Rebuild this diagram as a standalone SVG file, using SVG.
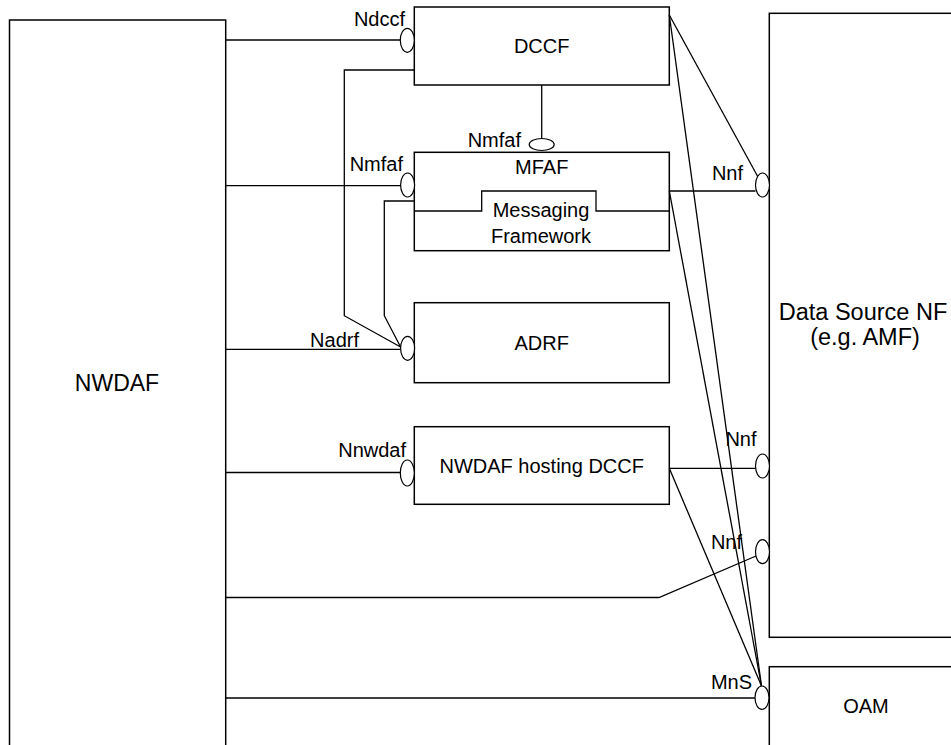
<svg xmlns="http://www.w3.org/2000/svg" width="951" height="745" viewBox="0 0 951 745">
<style>
.box{fill:#fff;stroke:#000;stroke-width:1.5}
.ln{fill:none;stroke:#000;stroke-width:1.3}
.if{fill:#fff;stroke:#000;stroke-width:1.2}
text{font-family:"Liberation Sans",Arial,sans-serif;fill:#000}
.t{font-size:20px;text-anchor:middle}
.big{font-size:23px;text-anchor:middle}
.ds{font-size:23.5px;text-anchor:middle}
.lb{font-size:20px;text-anchor:end}
</style>
<rect width="951" height="745" fill="#fff"/>
<g id="NWDAF">
<rect class="box" x="9.5" y="20" width="216.2" height="740"/>
<text class="big" x="117" y="391">NWDAF</text>
</g>
<g id="DCCF">
<rect class="box" x="414.3" y="7" width="255" height="78"/>
<text class="t" x="541.7" y="53">DCCF</text>
</g>
<g id="MFAF">
<rect class="box" x="414.3" y="152.3" width="255" height="98.4"/>
<text class="t" x="541.7" y="174.3">MFAF</text>
<path class="ln" d="M414.3 211H481.7V191H596V211H669.3"/>
<text class="t" x="541" y="217.3">Messaging</text>
<text class="t" x="541" y="242.7">Framework</text>
</g>
<g id="ADRF">
<rect class="box" x="414.3" y="302.7" width="255" height="80"/>
<text class="t" x="541.7" y="349.5">ADRF</text>
</g>
<g id="NWDAF_hosting_DCCF">
<rect class="box" x="414.3" y="426.7" width="255" height="77.6"/>
<text class="t" x="541.7" y="473">NWDAF hosting DCCF</text>
</g>
<g id="DataSourceNF">
<rect class="box" x="769.3" y="13.3" width="200" height="624"/>
<text class="ds" x="863" y="320">Data Source NF</text>
<text class="ds" x="865" y="345">(e.g. AMF)</text>
</g>
<g id="OAM">
<rect class="box" x="769.3" y="666.7" width="200" height="100"/>
<text class="t" x="866" y="713">OAM</text>
</g>
<g id="connectors">
<path class="ln" d="M225.7 40H400.3"/>
<path class="ln" d="M225.7 185.7H400.6"/>
<path class="ln" d="M225.7 349.3H400.6"/>
<path class="ln" d="M225.7 472.5H400.3"/>
<path class="ln" d="M225.7 597.5H659L756 556"/>
<path class="ln" d="M225.7 698H755"/>
<path class="ln" d="M414.3 70H344.3V315.7L400.6 347"/>
<path class="ln" d="M414.3 201H384.3V315.7L400.6 347"/>
<path class="ln" d="M541.7 85V138.5"/>
<path class="ln" d="M669.3 191H755.5"/>
<path class="ln" d="M669.3 15L758 177"/>
<path class="ln" d="M669.3 15L761.5 686"/>
<path class="ln" d="M669.3 191L761.5 686"/>
<path class="ln" d="M669.3 468.3H755.5"/>
<path class="ln" d="M669.3 468.3L761.5 686"/>
<ellipse class="if" cx="407.3" cy="40.3" rx="7" ry="12"/>
<ellipse class="if" cx="407.6" cy="185" rx="7" ry="12"/>
<ellipse class="if" cx="407.6" cy="348.3" rx="7" ry="12"/>
<ellipse class="if" cx="407.3" cy="473" rx="7" ry="13"/>
<ellipse class="if" cx="541.7" cy="144.5" rx="12.5" ry="6"/>
<ellipse class="if" cx="762.5" cy="185" rx="7" ry="12"/>
<ellipse class="if" cx="762.5" cy="466" rx="7" ry="12"/>
<ellipse class="if" cx="762.5" cy="551.7" rx="7" ry="12"/>
<ellipse class="if" cx="762" cy="697.7" rx="7" ry="11.7"/>
<text class="lb" x="405" y="26">Ndccf</text>
<text class="lb" x="403" y="170.7">Nmfaf</text>
<text class="lb" x="521" y="147">Nmfaf</text>
<text class="lb" x="359" y="346.7">Nadrf</text>
<text class="lb" x="406" y="456.7">Nnwdaf</text>
<text class="lb" x="743" y="180">Nnf</text>
<text class="lb" x="756.5" y="446">Nnf</text>
<text class="lb" x="742" y="548.5">Nnf</text>
<text class="lb" x="752" y="689">MnS</text>
</g>
</svg>
